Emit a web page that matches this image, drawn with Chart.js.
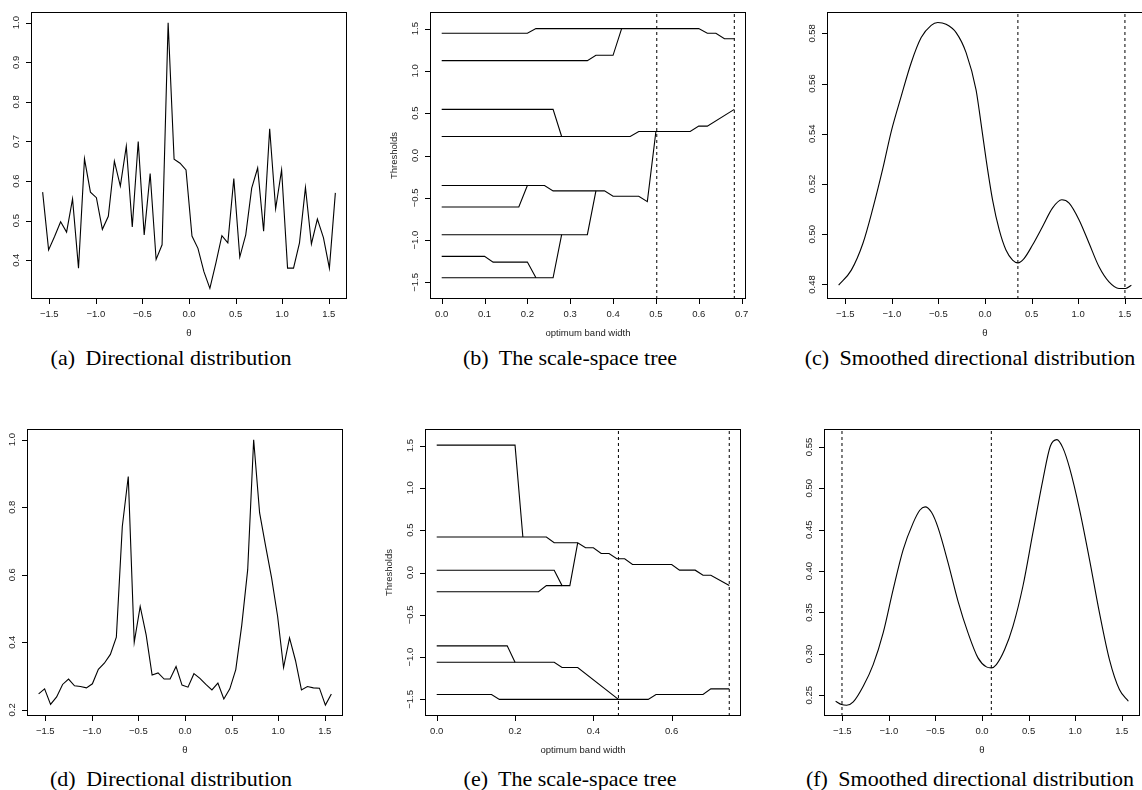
<!DOCTYPE html>
<html>
<head>
<meta charset="utf-8">
<script src="https://cdn.jsdelivr.net/npm/chart.js@4.4.1/dist/chart.umd.min.js"></script>
<style>
  body { margin: 0; background: #fff; width: 1142px; height: 790px; overflow: hidden; position: relative; }
  canvas { position: absolute; }
  .cap { position: absolute; font-family: "Liberation Serif", "Times New Roman", serif; font-size: 22px;
         white-space: nowrap; transform: translate(-50%, -50%); color: #000; }
  .cap b { font-weight: normal; margin-right: 5px; }
</style>
</head>
<body>
<canvas id="pa" width="369" height="340"></canvas>
<canvas id="pb" width="369" height="340"></canvas>
<canvas id="pc" width="369" height="340"></canvas>
<canvas id="pd" width="369" height="340"></canvas>
<canvas id="pe" width="369" height="340"></canvas>
<canvas id="pf" width="369" height="340"></canvas>

<div class="cap" style="left:171px;top:358px"><b>(a)</b> Directional distribution</div>
<div class="cap" style="left:570px;top:358px"><b>(b)</b> The scale-space tree</div>
<div class="cap" style="left:970px;top:358px"><b>(c)</b> Smoothed directional distribution</div>
<div class="cap" style="left:171px;top:779px"><b>(d)</b> Directional distribution</div>
<div class="cap" style="left:570px;top:779px"><b>(e)</b> The scale-space tree</div>
<div class="cap" style="left:970px;top:779px"><b>(f)</b> Smoothed directional distribution</div>

<script>
// angles (50 points over -pi/2 .. pi/2)
const theta = [-1.571, -1.507, -1.443, -1.378, -1.314, -1.250, -1.186, -1.122, -1.058, -0.994,
  -0.930, -0.866, -0.801, -0.737, -0.673, -0.609, -0.545, -0.481, -0.417, -0.353,
  -0.289, -0.224, -0.160, -0.096, -0.032, 0.032, 0.096, 0.160, 0.224, 0.289,
  0.353, 0.417, 0.481, 0.545, 0.609, 0.673, 0.737, 0.801, 0.866, 0.930,
  0.994, 1.058, 1.122, 1.186, 1.250, 1.314, 1.378, 1.443, 1.507, 1.571];

// (a) directional distribution
const dirA = [0.572, 0.426, 0.460, 0.497, 0.471, 0.555, 0.380, 0.656, 0.572, 0.558,
  0.478, 0.511, 0.650, 0.587, 0.688, 0.484, 0.700, 0.464, 0.619, 0.402,
  0.439, 1.000, 0.655, 0.645, 0.628, 0.461, 0.430, 0.371, 0.329, 0.393,
  0.462, 0.444, 0.606, 0.408, 0.464, 0.582, 0.633, 0.473, 0.732, 0.530,
  0.628, 0.380, 0.380, 0.444, 0.584, 0.441, 0.504, 0.457, 0.380, 0.570];

// (d) directional distribution
const dirD = [0.247, 0.262, 0.216, 0.238, 0.275, 0.291, 0.271, 0.269, 0.265, 0.277,
  0.320, 0.338, 0.364, 0.415, 0.743, 0.891, 0.400, 0.506, 0.422, 0.303,
  0.309, 0.291, 0.291, 0.328, 0.273, 0.267, 0.307, 0.293, 0.275, 0.259,
  0.279, 0.232, 0.262, 0.319, 0.450, 0.615, 1.000, 0.783, 0.684, 0.590,
  0.477, 0.325, 0.413, 0.346, 0.259, 0.269, 0.265, 0.264, 0.214, 0.247];

// (c) smoothed curve
const smoothCx = [-1.571, -1.435, -1.310, -1.203, -1.096, -1.006, -0.899, -0.792, -0.685, -0.578,
  -0.507, -0.418, -0.310, -0.203, -0.096, -0.061, 0.011, 0.081, 0.153, 0.225,
  0.296, 0.353, 0.421, 0.510, 0.617, 0.724, 0.824, 0.903, 1.010, 1.117,
  1.224, 1.331, 1.438, 1.510, 1.571];
const smoothCy = [0.4797, 0.4857, 0.4964, 0.5104, 0.5263, 0.5410, 0.5550, 0.5683, 0.5783, 0.5832,
  0.5843, 0.5836, 0.5803, 0.5723, 0.5575, 0.5490, 0.5300, 0.5137, 0.5017, 0.4937,
  0.4897, 0.4886, 0.4904, 0.4957, 0.5030, 0.5104, 0.5137, 0.5124, 0.5057, 0.4964,
  0.4870, 0.4810, 0.4784, 0.4784, 0.4797];

// (f) smoothed curve
const smoothFx = [-1.571, -1.507, -1.453, -1.382, -1.275, -1.168, -1.061, -0.954, -0.846, -0.739,
  -0.668, -0.611, -0.542, -0.471, -0.364, -0.257, -0.150, -0.043, 0.047, 0.100,
  0.154, 0.243, 0.332, 0.439, 0.546, 0.654, 0.733, 0.804, 0.868, 0.940,
  1.047, 1.154, 1.261, 1.368, 1.475, 1.571];
const smoothFy = [0.2428, 0.2388, 0.2379, 0.2420, 0.2609, 0.2871, 0.3254, 0.3777, 0.4260, 0.4582,
  0.4735, 0.4775, 0.4710, 0.4522, 0.4100, 0.3635, 0.3254, 0.2952, 0.2843, 0.2831,
  0.2871, 0.3052, 0.3333, 0.3817, 0.4461, 0.5105, 0.5507, 0.5588, 0.5488, 0.5246,
  0.4743, 0.4139, 0.3495, 0.2931, 0.2569, 0.2428];

// (b) scale-space tree branches [band width, threshold]
const treeB = [
  [[0, 1.445], [0.20, 1.445], [0.22, 1.5], [0.60, 1.5], [0.62, 1.445], [0.64, 1.445], [0.66, 1.38], [0.683, 1.38]],
  [[0, 1.121], [0.34, 1.121], [0.36, 1.184], [0.40, 1.184], [0.42, 1.5]],
  [[0, 0.545], [0.26, 0.545], [0.28, 0.225]],
  [[0, 0.225], [0.44, 0.225], [0.46, 0.284], [0.58, 0.284], [0.60, 0.347], [0.62, 0.347], [0.683, 0.545]],
  [[0, -0.355], [0.24, -0.355], [0.26, -0.418], [0.38, -0.418], [0.40, -0.482], [0.46, -0.482], [0.48, -0.545], [0.50, 0.284]],
  [[0, -0.608], [0.18, -0.608], [0.20, -0.355]],
  [[0, -0.936], [0.34, -0.936], [0.36, -0.418]],
  [[0, -1.192], [0.10, -1.192], [0.12, -1.26], [0.20, -1.26], [0.22, -1.445]],
  [[0, -1.445], [0.26, -1.445], [0.28, -0.936]]
];
const cutsB = [0.502, 0.683];

// (e) scale-space tree branches
const treeE = [
  [[0, 1.505], [0.20, 1.505], [0.22, 0.42]],
  [[0, 0.42], [0.28, 0.42], [0.30, 0.351], [0.36, 0.351], [0.38, 0.292], [0.40, 0.292], [0.42, 0.225], [0.44, 0.225],
   [0.46, 0.162], [0.48, 0.162], [0.50, 0.095], [0.60, 0.095], [0.62, 0.0275], [0.66, 0.0275], [0.68, -0.032], [0.70, -0.032], [0.747, -0.154]],
  [[0, 0.027], [0.30, 0.027], [0.32, -0.155], [0.34, -0.155], [0.36, 0.351]],
  [[0, -0.228], [0.26, -0.228], [0.28, -0.155], [0.32, -0.155]],
  [[0, -0.867], [0.18, -0.867], [0.20, -1.06]],
  [[0, -1.06], [0.30, -1.06], [0.32, -1.123], [0.36, -1.123], [0.464, -1.5]],
  [[0, -1.442], [0.14, -1.442], [0.16, -1.5], [0.54, -1.5], [0.56, -1.442], [0.68, -1.442], [0.70, -1.375], [0.747, -1.375]]
];
const cutsE = [0.464, 0.747];

// mode cuts in the smoothed plots
const cutsC = [0.353, 1.502];
const cutsF = [-1.503, 0.100];

// ticks
const thetaTicks = [-1.5, -1.0, -0.5, 0.0, 0.5, 1.0, 1.5];
const ticksA = [0.4, 0.5, 0.6, 0.7, 0.8, 0.9, 1.0];
const ticksD = [0.2, 0.4, 0.6, 0.8, 1.0];
const ticksC = [0.48, 0.50, 0.52, 0.54, 0.56, 0.58];
const ticksF = [0.25, 0.30, 0.35, 0.40, 0.45, 0.50, 0.55];
const ticksTree = [-1.5, -1.0, -0.5, 0.0, 0.5, 1.0, 1.5];
const bandTicksB = [0.0, 0.1, 0.2, 0.3, 0.4, 0.5, 0.6, 0.7];
const bandTicksE = [0.0, 0.2, 0.4, 0.6];

const AXFONT = '9.5px "Liberation Sans", Arial, sans-serif';

const zip = (xs, ys) => xs.map((v, i) => ({ x: v, y: ys[i] }));
const pts = br => br.map(p => ({ x: p[0], y: p[1] }));
const fmt = (v, d) => v.toFixed(d).replace('-', '\u2212');

// R style box, ticks and labels
const rAxes = {
  id: 'rAxes',
  afterDraw(chart, args, o) {
    const { ctx, chartArea: a, scales: { x, y } } = chart;
    ctx.save();
    ctx.strokeStyle = '#000';
    ctx.lineWidth = 1;
    ctx.strokeRect(a.left + 0.5, a.top + 0.5, a.right - a.left - 1, a.bottom - a.top - 1);
    ctx.fillStyle = '#222';
    ctx.font = AXFONT;
    ctx.textAlign = 'center';
    ctx.textBaseline = 'middle';
    ctx.beginPath();
    o.xt.forEach(v => {
      const px = Math.round(x.getPixelForValue(v)) + 0.5;
      ctx.moveTo(px, a.bottom);
      ctx.lineTo(px, a.bottom + 5);
    });
    o.yt.forEach(v => {
      const py = Math.round(y.getPixelForValue(v)) + 0.5;
      ctx.moveTo(a.left, py);
      ctx.lineTo(a.left - 5, py);
    });
    ctx.stroke();
    o.xt.forEach(v => ctx.fillText(fmt(v, o.xd), x.getPixelForValue(v), a.bottom + 15));
    o.yt.forEach(v => {
      ctx.save();
      ctx.translate(a.left - 15, y.getPixelForValue(v));
      ctx.rotate(-Math.PI / 2);
      ctx.fillText(fmt(v, o.yd), 0, 0);
      ctx.restore();
    });
    if (o.xlab) ctx.fillText(o.xlab, (a.left + a.right) / 2, a.bottom + 34);
    if (o.ylab) {
      ctx.save();
      ctx.translate(a.left - 36, (a.top + a.bottom) / 2);
      ctx.rotate(-Math.PI / 2);
      ctx.fillText(o.ylab, 0, 0);
      ctx.restore();
    }
    ctx.restore();
  }
};

const panels = [
  { id: 'pa', box: [31, 12], xr: [-1.696, 1.696], yr: [0.302, 1.027], xt: thetaTicks, yt: ticksA, xd: 1, yd: 1,
    xlab: 'θ', ylab: '', lines: [zip(theta, dirA)], cuts: [], smooth: false },
  { id: 'pb', box: [430, 12], xr: [-0.0273, 0.7103], yr: [-1.696, 1.696], xt: bandTicksB, yt: ticksTree, xd: 1, yd: 1,
    xlab: 'optimum band width', ylab: 'Thresholds', lines: treeB.map(pts), cuts: cutsB, smooth: false },
  { id: 'pc', box: [827, 12], xr: [-1.696, 1.696], yr: [0.4742, 0.5885], xt: thetaTicks, yt: ticksC, xd: 1, yd: 2,
    xlab: 'θ', ylab: '', lines: [zip(smoothCx, smoothCy)], cuts: cutsC, smooth: true },
  { id: 'pd', box: [27, 429], xr: [-1.696, 1.696], yr: [0.1816, 1.0316], xt: thetaTicks, yt: ticksD, xd: 1, yd: 1,
    xlab: 'θ', ylab: '', lines: [zip(theta, dirD)], cuts: [], smooth: false },
  { id: 'pe', box: [425, 429], xr: [-0.0299, 0.777], yr: [-1.696, 1.696], xt: bandTicksE, yt: ticksTree, xd: 1, yd: 1,
    xlab: 'optimum band width', ylab: 'Thresholds', lines: treeE.map(pts), cuts: cutsE, smooth: false },
  { id: 'pf', box: [824, 429], xr: [-1.696, 1.696], yr: [0.2250, 0.5716], xt: thetaTicks, yt: ticksF, xd: 1, yd: 2,
    xlab: 'θ', ylab: '', lines: [zip(smoothFx, smoothFy)], cuts: cutsF, smooth: true }
];

panels.forEach(p => {
  const cv = document.getElementById(p.id);
  cv.style.left = (p.box[0] - 45) + 'px';
  cv.style.top = (p.box[1] - 8) + 'px';

  const datasets = p.lines.map(d => ({
    data: d,
    borderColor: '#000',
    borderWidth: 1.1,
    pointRadius: 0,
    tension: 0,
    cubicInterpolationMode: p.smooth ? 'monotone' : 'default'
  }));
  p.cuts.forEach(c => datasets.push({
    data: [{ x: c, y: p.yr[0] }, { x: c, y: p.yr[1] }],
    borderColor: '#000',
    borderWidth: 1,
    borderDash: [3, 3],
    pointRadius: 0
  }));

  new Chart(cv.getContext('2d'), {
    type: 'line',
    data: { datasets },
    options: {
      responsive: false,
      animation: false,
      events: [],
      layout: { padding: { left: 45, top: 8, right: 8, bottom: 45 } },
      scales: {
        x: { type: 'linear', display: false, min: p.xr[0], max: p.xr[1] },
        y: { type: 'linear', display: false, min: p.yr[0], max: p.yr[1] }
      },
      plugins: {
        legend: { display: false },
        tooltip: { enabled: false },
        rAxes: { xt: p.xt, yt: p.yt, xd: p.xd, yd: p.yd, xlab: p.xlab, ylab: p.ylab }
      }
    },
    plugins: [rAxes]
  });
});
</script>
</body>
</html>
